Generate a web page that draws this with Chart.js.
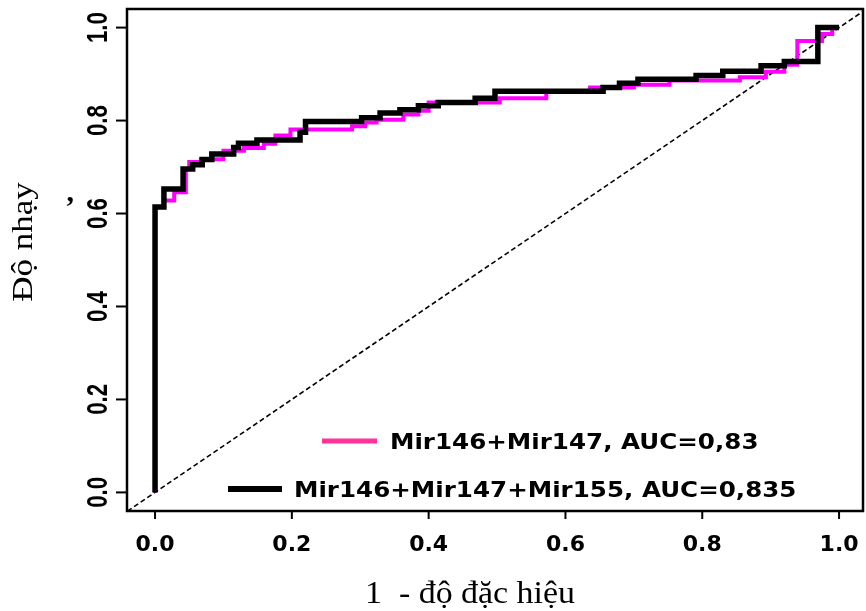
<!DOCTYPE html>
<html>
<head>
<meta charset="utf-8">
<script src="https://cdn.jsdelivr.net/npm/chart.js@4.4.1/dist/chart.umd.min.js"></script>
<style>
  html, body { margin: 0; padding: 0; background: #fff; }
  canvas { display: block; }
</style>
</head>
<body>
<canvas id="roc" width="866" height="611"></canvas>
<script>
// ROC steps: at each fpr the curve climbs to the matching tpr
const fprTriple = [0, 0, 0.013, 0.041, 0.055, 0.069, 0.083, 0.115, 0.122, 0.149, 0.212, 0.220, 0.302, 0.329, 0.358, 0.385, 0.414, 0.468, 0.497, 0.655, 0.679, 0.706, 0.791, 0.830, 0.886, 0.920, 0.969, 1.0];
const tprTriple = [0, 0.614, 0.653, 0.696, 0.705, 0.716, 0.728, 0.742, 0.751, 0.758, 0.775, 0.798, 0.806, 0.816, 0.823, 0.832, 0.839, 0.848, 0.863, 0.871, 0.880, 0.889, 0.897, 0.906, 0.918, 0.927, 1.0, 1.0];

const fprPair = [0, 0, 0.013, 0.028, 0.045, 0.050, 0.067, 0.100, 0.130, 0.159, 0.176, 0.198, 0.288, 0.307, 0.324, 0.363, 0.385, 0.400, 0.504, 0.572, 0.636, 0.700, 0.752, 0.855, 0.893, 0.920, 0.939, 0.975, 0.990, 1.0];
const tprPair = [0, 0.614, 0.628, 0.646, 0.696, 0.711, 0.717, 0.735, 0.741, 0.750, 0.768, 0.781, 0.788, 0.796, 0.802, 0.813, 0.821, 0.839, 0.848, 0.863, 0.871, 0.877, 0.886, 0.893, 0.905, 0.920, 0.971, 0.986, 1.0, 1.0];

const diagLine = [-0.05, 1.05];

const xTicks = [0, 0.2, 0.4, 0.6, 0.8, 1.0];
const yTicks = [0, 0.2, 0.4, 0.6, 0.8, 1.0];

const seriesNames = ['Mir146+Mir147, AUC=0,83', 'Mir146+Mir147+Mir155, AUC=0,835'];
const xTitle = '1  - độ đặc hiệu';
const yTitle = 'Độ nhạy';

const PINK = '#ff00ff';
const PINK_KEY = '#ff3399';

const toPoints = (xs, ys) => xs.map((x, i) => ({ x, y: ys[i] }));

// box, ticks, titles and legend drawn R-style on top of the plot
const rocFrame = {
  id: 'rocFrame',
  afterDraw(chart) {
    const { ctx, chartArea: a, scales: { x, y } } = chart;
    ctx.save();
    ctx.strokeStyle = '#000';
    ctx.fillStyle = '#000';

    ctx.lineWidth = 2.5;
    ctx.strokeRect(a.left, a.top, a.right - a.left, a.bottom - a.top);

    // x axis
    ctx.lineWidth = 2;
    ctx.font = 'bold 22px "DejaVu Sans"';
    ctx.textAlign = 'center';
    ctx.textBaseline = 'alphabetic';
    xTicks.forEach(v => {
      const px = x.getPixelForValue(v);
      ctx.beginPath();
      ctx.moveTo(px, a.bottom);
      ctx.lineTo(px, a.bottom + 8);
      ctx.stroke();
      ctx.fillText(v.toFixed(1), px, 551);
    });

    // y axis, labels turned to read upwards
    ctx.font = 'bold 30px "Liberation Sans"';
    yTicks.forEach(v => {
      const py = y.getPixelForValue(v);
      ctx.beginPath();
      ctx.moveTo(a.left - 11, py);
      ctx.lineTo(a.left, py);
      ctx.stroke();
      ctx.save();
      ctx.translate(107, py);
      ctx.rotate(-Math.PI / 2);
      ctx.scale(0.74, 1);
      ctx.fillText(v.toFixed(1), 0, 0);
      ctx.restore();
    });

    // axis titles
    ctx.font = '32px "Liberation Serif"';
    ctx.save();
    ctx.translate(470, 603);
    ctx.scale(1.06, 1);
    ctx.fillText(xTitle, 0, 0);
    ctx.restore();

    ctx.font = '31px "Liberation Serif"';
    ctx.save();
    ctx.translate(32, 242);
    ctx.rotate(-Math.PI / 2);
    ctx.scale(1.13, 0.92);
    ctx.fillText(yTitle, 0, 0);
    ctx.restore();
    ctx.font = 'bold 30px "Liberation Serif"';
    ctx.fillText('\u02BC', 70, 217);

    // legend
    const keys = [
      { color: PINK_KEY, x0: 322, x1: 377, tx: 390, cy: 441, w: 5 },
      { color: '#000', x0: 228, x1: 282, tx: 294, cy: 489, w: 6 }
    ];
    ctx.font = 'bold 21px "DejaVu Sans"';
    ctx.textAlign = 'left';
    keys.forEach((k, i) => {
      ctx.strokeStyle = k.color;
      ctx.lineWidth = k.w;
      ctx.beginPath();
      ctx.moveTo(k.x0, k.cy);
      ctx.lineTo(k.x1, k.cy);
      ctx.stroke();
      ctx.save();
      ctx.translate(k.tx, k.cy + 7.6);
      ctx.scale(1.17, 1);
      ctx.fillText(seriesNames[i], 0, 0);
      ctx.restore();
    });
    ctx.restore();
  }
};

new Chart(document.getElementById('roc'), {
  type: 'line',
  data: {
    datasets: [
      {
        label: seriesNames[1],
        data: toPoints(fprTriple, tprTriple),
        borderColor: '#000',
        borderWidth: 5.5,
        stepped: 'before',
        borderJoinStyle: 'miter',
        pointRadius: 0,
        fill: false
      },
      {
        label: seriesNames[0],
        data: toPoints(fprPair, tprPair),
        borderColor: PINK,
        borderWidth: 4,
        stepped: 'before',
        borderJoinStyle: 'miter',
        pointRadius: 0,
        fill: false
      },
      {
        label: 'chance',
        data: toPoints(diagLine, diagLine),
        borderColor: '#000',
        borderWidth: 1.6,
        borderDash: [5, 3],
        pointRadius: 0,
        fill: false,
        clip: 0
      }
    ]
  },
  options: {
    responsive: false,
    animation: false,
    layout: { padding: { left: 127, right: 3, top: 9, bottom: 100 } },
    plugins: {
      legend: { display: false },
      tooltip: { enabled: false }
    },
    scales: {
      x: { type: 'linear', min: -0.041, max: 1.035, display: false },
      y: { type: 'linear', min: -0.04, max: 1.04, display: false }
    }
  },
  plugins: [rocFrame]
});
</script>
</body>
</html>
